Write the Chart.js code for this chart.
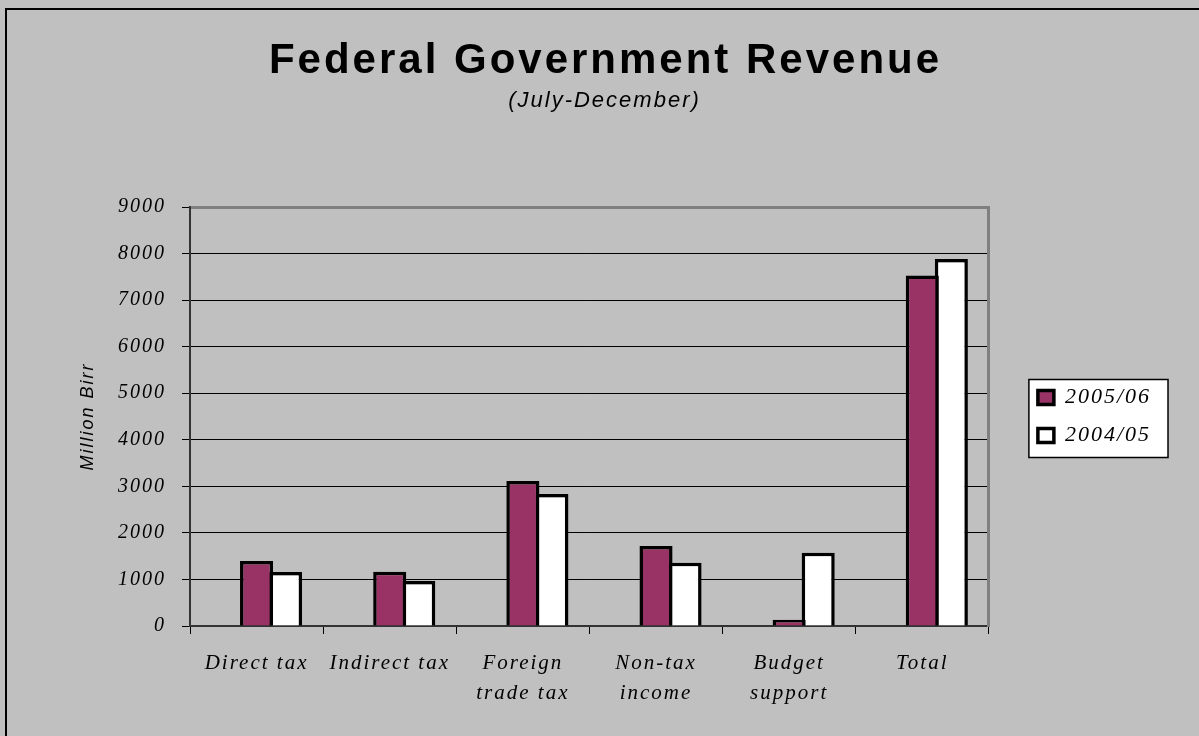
<!DOCTYPE html>
<html>
<head>
<meta charset="utf-8">
<title>Federal Government Revenue</title>
<script src="https://cdn.jsdelivr.net/npm/chart.js@4.4.1/dist/chart.umd.min.js"></script>
<style>
html,body{margin:0;padding:0;background:#c0c0c0;overflow:hidden}
#wrap{position:relative;width:1199px;height:736px}
#frame{position:absolute;left:5px;top:8px;right:-10px;bottom:-10px;border-left:2px solid #000;border-top:2px solid #000;pointer-events:none}
canvas{display:block}
</style>
</head>
<body>
<div id="wrap"><canvas id="c" width="1199" height="736"></canvas><div id="frame"></div></div>
<script>
// ---- data (Million Birr, July-December) ----
const CATEGORIES=['Direct tax','Indirect tax',['Foreign','trade tax'],['Non-tax','income'],['Budget','support'],'Total'];
const FY_0506=[1395,1165,3115,1720,135,7530];
const FY_0405=[1160,965,2835,1360,1575,7885];
const BLANK=[null,null,null,null,null,null]; // empty series slot, keeps the pair off-centre like the original
const Y_MIN=0,Y_MAX=9000,Y_STEP=1000;
const TITLE='Federal Government Revenue';
const SUBTITLE='(July-December)';

const SERIF='"Liberation Serif","Times New Roman",serif';
const SANS='"Liberation Sans",Arial,sans-serif';

// letter spacing + title + legend frame
const deco={
  id:'deco',
  beforeUpdate(c){c.ctx.letterSpacing='2px';},
  beforeDraw(c){
    const ctx=c.ctx; ctx.letterSpacing='2px';
    const hb=c.legend&&c.legend.legendHitBoxes;
    if(hb&&hb.length){
      const l=Math.min(...hb.map(h=>h.left))-9, t=hb[0].top-7;
      const r=Math.max(...hb.map(h=>h.left+h.width))+17, b=hb[hb.length-1].top+hb[hb.length-1].height+11;
      ctx.save(); ctx.fillStyle='#fff'; ctx.fillRect(l,t,r-l,b-t);
      ctx.strokeStyle='#000'; ctx.lineWidth=1.5; ctx.strokeRect(l,t,r-l,b-t); ctx.restore();
    }
  },
  afterDraw(c){
    const ctx=c.ctx; ctx.save();
    ctx.fillStyle='#000'; ctx.textAlign='center'; ctx.textBaseline='alphabetic';
    ctx.letterSpacing='3px'; ctx.font='bold 42px '+SANS; ctx.fillText(TITLE,c.width/2+6,73);
    ctx.letterSpacing='2px'; ctx.font='italic 22px '+SANS; ctx.fillText(SUBTITLE,c.width/2+5,107);
    ctx.restore();
  }
};

Chart.defaults.animation=false;
new Chart(document.getElementById('c'),{
  type:'bar',
  data:{labels:CATEGORIES,datasets:[
    {label:'',data:BLANK,backgroundColor:'rgba(0,0,0,0)',borderWidth:0},
    {label:'2005/06',data:FY_0506,backgroundColor:'#993366',borderColor:'#000',borderWidth:3.5},
    {label:'2004/05',data:FY_0405,backgroundColor:'#fff',borderColor:'#000',borderWidth:3.5}
  ]},
  options:{
    responsive:false,
    categoryPercentage:0.654,barPercentage:1.14,
    layout:{padding:{top:207,left:0,bottom:0,right:38}},
    plugins:{
      tooltip:{enabled:false},
      legend:{position:'right',align:'center',fullSize:false,
        labels:{filter:it=>it.datasetIndex>0,color:'#000',boxWidth:16,boxHeight:14,padding:16,
          font:{family:SERIF,style:'italic',size:22}}}
    },
    scales:{
      x:{offset:true,
        grid:{offset:true,drawOnChartArea:false,color:'#000',tickLength:8},
        border:{color:'#333',width:2},
        ticks:{color:'#000',maxRotation:0,autoSkip:false,padding:14,font:{family:SERIF,style:'italic',size:21,lineHeight:1.45}},
        afterFit(s){s.height=110;}},
      y:{min:Y_MIN,max:Y_MAX,
        ticks:{stepSize:Y_STEP,color:'#000',padding:16,callback:v=>String(v),font:{family:SERIF,style:'italic',size:20}},
        grid:{color:g=>g.tick&&g.tick.value===Y_MAX?'#808080':'#000',lineWidth:g=>g.tick&&g.tick.value===Y_MAX?3:1,
          tickColor:'#000',tickWidth:1,tickLength:8},
        border:{color:'#333',width:2},
        title:{display:true,text:'Million Birr',color:'#000',padding:{top:77,bottom:0},font:{family:SANS,style:'italic',size:18}},
        afterFit(s){s.width=190;}},
      y2:{position:'right',display:true,grid:{display:false},ticks:{display:false},
        border:{color:'#808080',width:3},afterFit(s){s.width=33;}}
    }
  },
  plugins:[deco]
});
</script>
</body>
</html>
